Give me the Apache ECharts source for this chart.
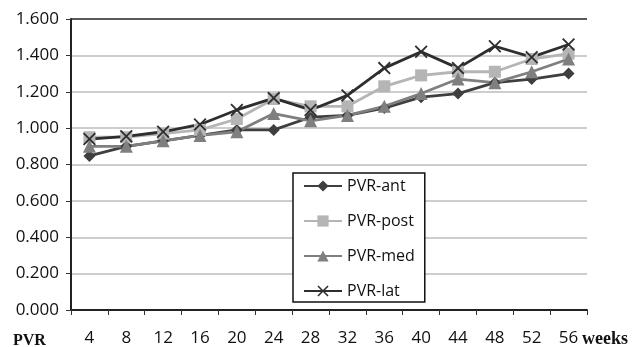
<!DOCTYPE html>
<html>
<head>
<meta charset="utf-8">
<script src="https://cdn.jsdelivr.net/npm/echarts@6/dist/echarts.min.js"></script>
<style>
  html, body { margin: 0; padding: 0; background: #fff; }
  #chart { width: 632px; height: 347px; }
</style>
</head>
<body>
<div id="chart"></div>
<script>
const weeks = ['4', '8', '12', '16', '20', '24', '28', '32', '36', '40', '44', '48', '52', '56']
const pvrAnt = [0.847, 0.90, 0.93, 0.96, 0.99, 0.99, 1.06, 1.07, 1.11, 1.17, 1.19, 1.25, 1.27, 1.30]
const pvrPost = [0.95, 0.95, 0.97, 0.99, 1.05, 1.16, 1.12, 1.12, 1.23, 1.29, 1.31, 1.31, 1.38, 1.41]
const pvrMed = [0.90, 0.90, 0.93, 0.96, 0.98, 1.08, 1.04, 1.07, 1.12, 1.19, 1.27, 1.25, 1.31, 1.38]
const pvrLat = [0.94, 0.955, 0.98, 1.02, 1.10, 1.165, 1.10, 1.18, 1.33, 1.42, 1.33, 1.45, 1.39, 1.46]

// X-shaped marker (filled polygon so it renders as a cross)
const crossPath = 'path://M0,1L1,0L5,4L9,0L10,1L6,5L10,9L9,10L5,6L1,10L0,9L4,5Z'

const chart = echarts.init(document.getElementById('chart'))

function mkSeries(name, data, color, symbol, size) {
  return {
    name,
    type: 'line',
    data,
    symbol,
    symbolSize: size,
    lineStyle: { color, width: 2.8 },
    itemStyle: { color },
    z: 3,
  }
}

chart.setOption({
  animation: false,
  textStyle: { fontFamily: 'Open Sans' },
  grid: { left: 71, right: 45, top: 19, bottom: 32 },
  xAxis: {
    type: 'category',
    data: weeks,
    axisLine: { lineStyle: { color: '#222', width: 2 } },
    axisTick: { show: true, length: 5, lineStyle: { color: '#333' } },
    axisLabel: { color: '#111', fontSize: 17, margin: 20 },
  },
  yAxis: {
    type: 'value',
    min: 0,
    max: 1.6,
    interval: 0.2,
    axisLine: { show: true, lineStyle: { color: '#222', width: 2 } },
    axisTick: { show: true, length: 5, lineStyle: { color: '#333' } },
    axisLabel: { color: '#111', fontSize: 17, margin: 12, formatter: v => v.toFixed(3) },
    splitLine: {
      lineStyle: {
        color: ['#bdbdbd', '#bdbdbd', '#bdbdbd', '#bdbdbd', '#bdbdbd', '#bdbdbd', '#bdbdbd', '#bdbdbd', '#222'],
        width: 1.5,
      },
    },
  },
  legend: {
    orient: 'vertical',
    left: 293,
    top: 173,
    width: 134,
    padding: [3, 10, 1, 10],
    itemGap: 15,
    itemWidth: 38,
    itemHeight: 14,
    borderColor: '#111',
    borderWidth: 1.5,
    backgroundColor: '#fff',
    textStyle: { fontSize: 16, color: '#111', lineHeight: 20 },
    data: ['PVR-ant', 'PVR-post', 'PVR-med', 'PVR-lat'],
  },
  graphic: [
    {
      type: 'text',
      left: 13,
      top: 333,
      style: { text: 'PVR', font: 'bold 16px "Liberation Serif"', fill: '#111' },
    },
    {
      type: 'text',
      left: 582,
      top: 330,
      style: { text: 'weeks', font: 'bold 18px "Liberation Serif"', fill: '#111' },
    },
  ],
  series: [
    mkSeries('PVR-ant', pvrAnt, '#3f3f3f', 'diamond', 12),
    mkSeries('PVR-post', pvrPost, '#b5b5b5', 'rect', 12),
    mkSeries('PVR-med', pvrMed, '#7f7f7f', 'triangle', 13),
    mkSeries('PVR-lat', pvrLat, '#2e2e2e', crossPath, 13),
  ],
})
</script>
</body>
</html>
